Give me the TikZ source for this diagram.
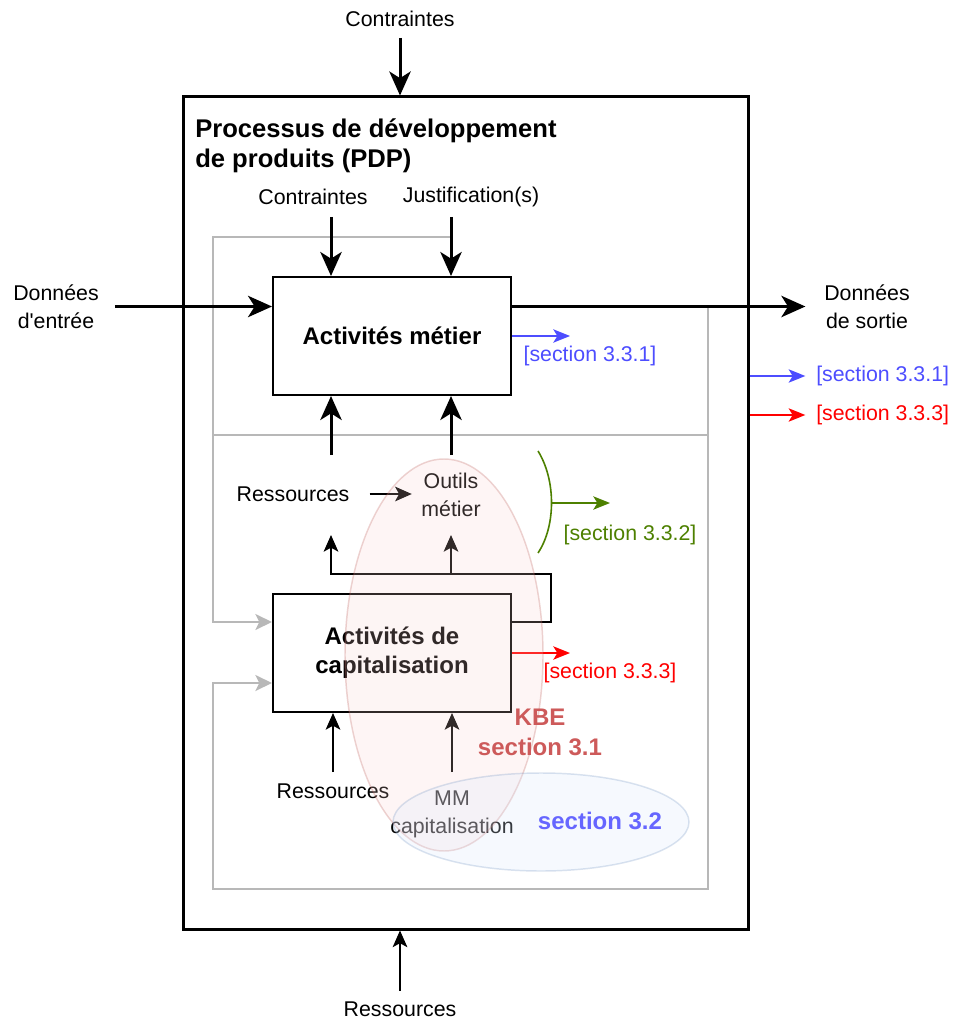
\documentclass[tikz,border=0pt]{standalone}
\usepackage{fontspec}
\setmainfont{Liberation Sans}[Ligatures=TeXOff]
\usetikzlibrary{arrows.meta}
\definecolor{secblue}{RGB}{77,77,255}
\definecolor{secred}{RGB}{255,0,0}
\definecolor{secgreen}{RGB}{77,128,0}
\definecolor{kbered}{RGB}{205,90,90}
\definecolor{mmblue}{RGB}{102,102,255}
\definecolor{loopgray}{RGB}{184,184,184}
\definecolor{kbefill}{RGB}{248,206,204}
\definecolor{kbedraw}{RGB}{184,84,80}
\definecolor{mmfill}{RGB}{218,232,252}
\definecolor{mmdraw}{RGB}{108,142,191}
\newcommand\txtn{\fontsize{16}{21}\selectfont}
\newcommand\txtb{\fontsize{18}{22}\selectfont\bfseries}
\newcommand\txtt{\fontsize{19.2}{22.5}\selectfont\bfseries}

\begin{document}
\begin{tikzpicture}[x=0.75pt,y=-0.75pt,
  lbl/.style={align=center,font=\txtn,inner sep=3pt},
  title/.style={align=left,font=\txtt,inner sep=3pt},
  box/.style={draw,line width=1.5pt,fill=white,align=center,font=\txtb,
    minimum width=178.5pt,minimum height=88.5pt},
  bigarr/.style={line width=2.25pt,-{Stealth[length=18pt,width=16pt,inset=5pt]}},
  arr/.style={line width=1.2pt,-{Stealth[length=12.5pt,width=11pt,inset=3pt]}},
  secarr/.style={line width=1.2pt,-{Stealth[length=12.5pt,width=10pt,inset=3pt]}},
  grayline/.style={loopgray,line width=1.5pt},
  grayarr/.style={grayline,-{Stealth[length=12.5pt,width=12pt,inset=3pt]}}]
% ---- page size in px, columns of the vertical arrows
\useasboundingbox (0,0) rectangle (960,1023);
\def\xa{331} \def\xb{451}
% ---- outer box (PDP)
\node[draw,line width=2.25pt,minimum width=423.75pt,minimum height=624pt] (pdp) at (465.5,513) {};
\node[title,anchor=west] (ttl) at (191,145.5) {Processus de développement\\de produits (PDP)};
% ---- grey feedback loops
\coordinate (gJ) at (\xb,237);
\coordinate (gTL) at (213,237);
\coordinate (gR) at (708,308);
\coordinate (gML) at (213,435);
\coordinate (gBL) at (213,889);
\node[box] (metier) at (392,336) {Activités métier};
\node[box] (cap) at (392,653) {Activités de\\capitalisation};
\draw[grayarr] (gJ) -- (gTL) |- ([yshift=23.25pt]cap.west);
\draw[grayline] (gR) |- (gML);
\draw[grayarr] (gR) |- (gBL) |- ([yshift=-22.5pt]cap.west);
% ---- inputs / outputs of the PDP
\node[lbl] (ctop) at (400,19) {Contraintes};
\draw[bigarr,shorten <=5pt] (ctop.south) -- (ctop.south |- pdp.north);
\node[lbl] (din) at (56,306.5) {Données\\d'entrée};
\node[lbl] (dout) at (867,307) {Données\\de sortie};
\draw[bigarr,shorten <=9pt] (din.east) -- (din.east -| metier.west);
\draw[bigarr,shorten >=11pt] (metier.east |- din.east) -- (dout.west |- din.east);
\node[lbl] (rbot) at (400,1009) {Ressources};
\draw[arr,shorten <=5pt] (rbot.north) -- (rbot.north |- pdp.south);
\node[lbl,anchor=west,text=secblue] (osec1) at (812,376) {[section 3.3.1]};
\node[lbl,anchor=west,text=secred] (osec3) at (812,415) {[section 3.3.3]};
\draw[secarr,secblue,shorten >=5pt] (osec1.west -| pdp.east) -- (osec1.west);
\draw[secarr,secred,shorten >=5pt] (osec3.west -| pdp.east) -- (osec3.west);
% ---- activites metier
\node[lbl] (cmet) at (313,197) {Contraintes};
\node[lbl] (just) at (471,197) {Justification(s)};
\coordinate (cmTop) at (\xa,217);
\coordinate (jsTop) at (\xb,217);
\draw[bigarr] (cmTop) -- (cmTop |- metier.north);
\draw[bigarr] (jsTop) -- (jsTop |- metier.north);
\coordinate (rsLow) at (\xa,455);
\coordinate (otLow) at (\xb,455);
\draw[bigarr] (rsLow) -- (rsLow |- metier.south);
\draw[bigarr] (otLow) -- (otLow |- metier.south);
\coordinate (sec1end) at (570,336);
\draw[secarr,secblue] (metier.east) -- (sec1end);
\node[lbl,text=secblue] (sec1) at (590,356) {[section 3.3.1]};
% ---- ressources and outils metier
\node[lbl] (rmet) at (293,494) {Ressources};
\node[lbl] (outils) at (451,495) {Outils\\métier};
\draw[arr,shorten <=12pt,shorten >=4pt] (rmet.east) -- (outils.west |- rmet.east);
\coordinate (brT) at (538,451);
\coordinate (brB) at (538,553);
\coordinate (brM) at (551,503);
\coordinate (sec2end) at (610,503);
\draw[secgreen,line width=1.2pt] (brT) .. controls (556,480) and (556,526) .. (brB);
\draw[secarr,secgreen] (brM) -- (sec2end);
\node[lbl,text=secgreen] (sec2) at (630,535) {[section 3.3.2]};
% ---- activites de capitalisation
\coordinate (loopR) at (551,574);
\coordinate (rsUp) at (\xa,535);
\coordinate (otUp) at (\xb,535);
\draw[arr] ([yshift=23.25pt]cap.east) -| (loopR) -| (rsUp);
\draw[arr] (otUp |- loopR) -- (otUp);
\coordinate (sec3end) at (570,653);
\draw[secarr,secred] (cap.east) -- (sec3end);
\node[lbl,text=secred] (sec3) at (610,673) {[section 3.3.3]};
\node[lbl] (rcap) at (333,791) {Ressources};
\node[lbl] (mm) at (452,814) {MM\\capitalisation};
\coordinate (rcTop) at (333,772);
\coordinate (mmTop) at (452,772);
\draw[arr] (rcTop) -- (rcTop |- cap.south);
\draw[arr] (mmTop) -- (mmTop |- cap.south);
% ---- KBE and MM zones, drawn over the rest
\draw[kbedraw,draw opacity=.25,fill=kbefill,fill opacity=.2,line width=1.1pt]
  (444,655) ellipse [x radius=74.25pt,y radius=147pt];
\draw[mmdraw,draw opacity=.25,fill=mmfill,fill opacity=.25,line width=1.1pt]
  (541,822) ellipse [x radius=111pt,y radius=36.75pt];
\node[align=center,font=\txtb,text=kbered] (kbe) at (540,732.5) {KBE\\section 3.1};
\node[font=\txtb,text=mmblue] (mmsec) at (600,821) {section 3.2};
\end{tikzpicture}
\end{document}
